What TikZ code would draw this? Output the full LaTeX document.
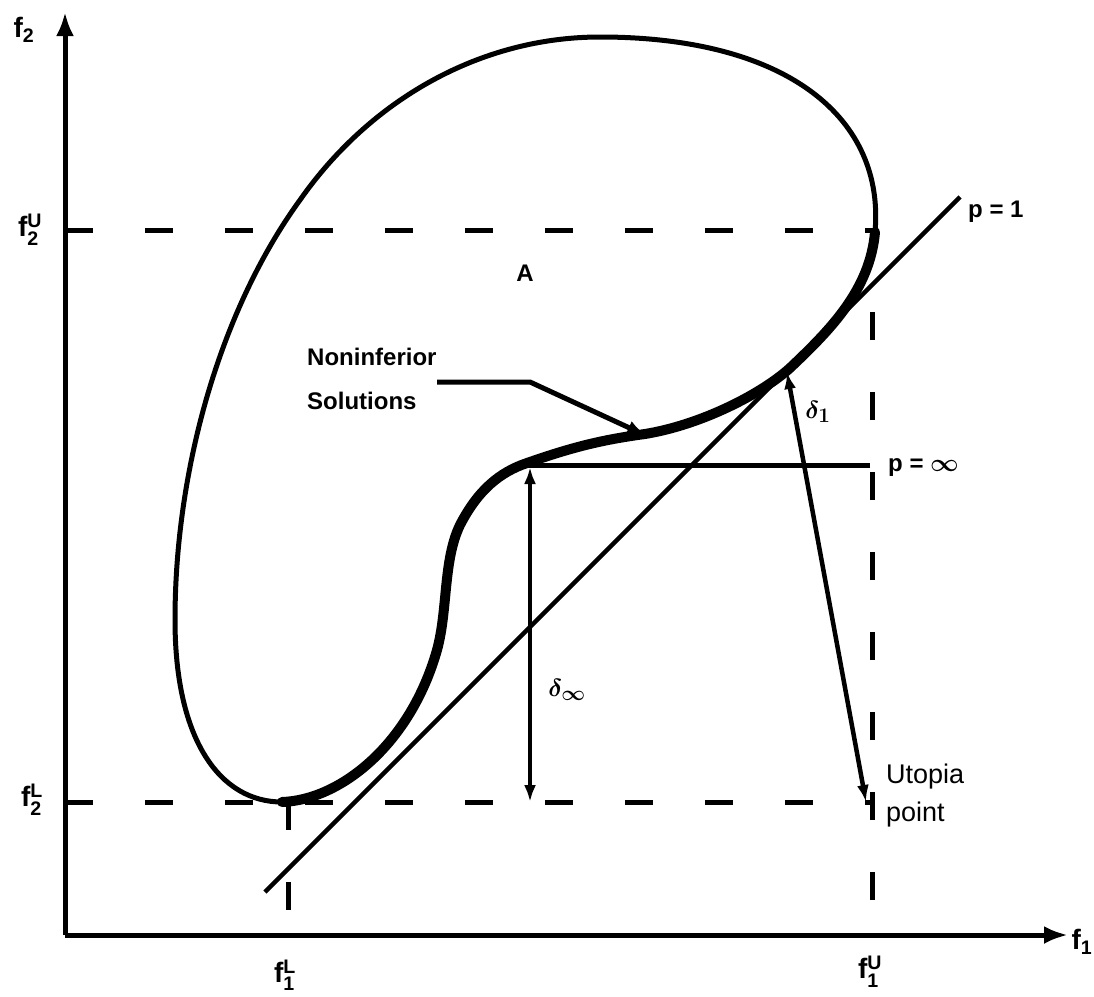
\documentclass[tikz,border=0pt]{standalone}
\usepackage{amsmath}
\usepackage{fontspec}
\setmainfont{Liberation Sans}
\usetikzlibrary{arrows.meta}
\begin{document}
\begin{tikzpicture}[x=1pt,y=-1pt,
  axis/.style={line width=5pt,-{Latex[length=24pt,width=18pt]}},
  guide/.style={line width=5pt,dash pattern=on 28pt off 52pt},
  thinc/.style={line width=5pt},
  thickc/.style={line width=10pt,line cap=round},
  ray/.style={line width=4.5pt},
  dim/.style={line width=4.5pt,{Latex[length=17pt,width=12pt]}-{Latex[length=17pt,width=12pt]}},
  lab/.style={font=\fontsize{28}{32}\selectfont\bfseries\boldmath, inner sep=0pt},
  txt/.style={font=\fontsize{24}{28}\selectfont\bfseries, inner sep=0pt},
  plain/.style={font=\fontsize{27}{38}\selectfont, inner sep=0pt, align=left}]
\useasboundingbox (0,0) rectangle (1094,996);
% named points
\coordinate (O) at (65,935);
\coordinate (ytop) at (65,12);
\coordinate (xend) at (1068,935);
\coordinate (f2U0) at (65,230);
\coordinate (f2U1) at (875,230);
\coordinate (f2L0) at (65,802);
\coordinate (f2L1) at (872,802);
\coordinate (f1L0) at (288,802);
\coordinate (f1L1) at (288,935);
\coordinate (f1U0) at (872,232);
\coordinate (f1U1) at (872,935);
\coordinate (p1a) at (265,892);
\coordinate (p1b) at (960,197);
\coordinate (pinfA) at (527,465);
\coordinate (pinfB) at (870,465);
\coordinate (dinfTop) at (530,467);
\coordinate (dinfBot) at (530,802);
\coordinate (d1Top) at (787,372);
\coordinate (d1Bot) at (866,802);
\coordinate (leadA) at (437,382);
\coordinate (leadB) at (530,382);
\coordinate (leadC) at (647,436);
% guides
\draw[guide] (f2U0) -- (f2U1);
\draw[guide] (f2L0) -- (f2L1);
\draw[guide] (f1L0) -- (f1L1);
\draw[guide] (f1U0) -- (f1U1);
% axes
\draw[axis] (O) -- (ytop);
\draw[axis] (O) -- (xend);
% region boundary (thin part)
\draw[thinc] (875,232) .. controls (885,120) and (790,37) .. (600,37)
  .. controls (480,37) and (370,100) .. (300,200)
  .. controls (220,310) and (175,470) .. (175,620)
  .. controls (175,740) and (220,802) .. (282,802);
% noninferior (thick part)
\draw[thickc] (282,802) .. controls (340,800) and (410,745) .. (437,650)
  .. controls (448,610) and (443,560) .. (460,525)
  .. controls (478,490) and (500,472) .. (527,463)
  .. controls (570,448) and (600,440) .. (645,434)
  .. controls (700,425) and (760,395) .. (790,368)
  .. controls (830,330) and (870,290) .. (875,232);
% p = 1 line
\draw[ray] (p1a) -- (p1b);
% p = infinity line
\draw[line width=5pt] (pinfA) -- (pinfB);
% distances
\draw[dim] (dinfTop) -- (dinfBot);
\draw[dim] (d1Top) -- (d1Bot);
% leader
\draw[line width=5pt,-{Latex[length=20pt,width=14pt]}] (leadA) -- (leadB) -- (leadC);
% labels
\node[lab] (lf2) at (24,30) {f$_{\textbf{2}}$};
\node[lab] (lf2U) at (30,230) {f$^{\textbf{U}}_{\textbf{2}}$};
\node[lab] (lf2L) at (32,800) {f$^{\textbf{L}}_{\textbf{2}}$};
\node[lab] (lf1L) at (285,975) {f$^{\textbf{L}}_{\textbf{1}}$};
\node[lab] (lf1U) at (870,972) {f$^{\textbf{U}}_{\textbf{1}}$};
\node[lab] (lf1) at (1082,942) {f$_{\textbf{1}}$};
\node[txt] (lA) at (525,273) {A};
\node[txt,anchor=west] (lp1) at (968,212) {p = 1};
\node[txt,anchor=west] (lpinf) at (888,468) {p = {\boldmath$\infty$}};
\node[lab] (ld1) at (818,412) {$\delta_1$};
\node[lab] (ldinf) at (567,690) {$\delta_\infty$};
\node[txt,anchor=west] (lnon) at (307,357) {Noninferior};
\node[txt,anchor=west] (lsol) at (307,401) {Solutions};
\node[plain,anchor=north west] (lut) at (886,764) {Utopia\\point};
\end{tikzpicture}
\end{document}
